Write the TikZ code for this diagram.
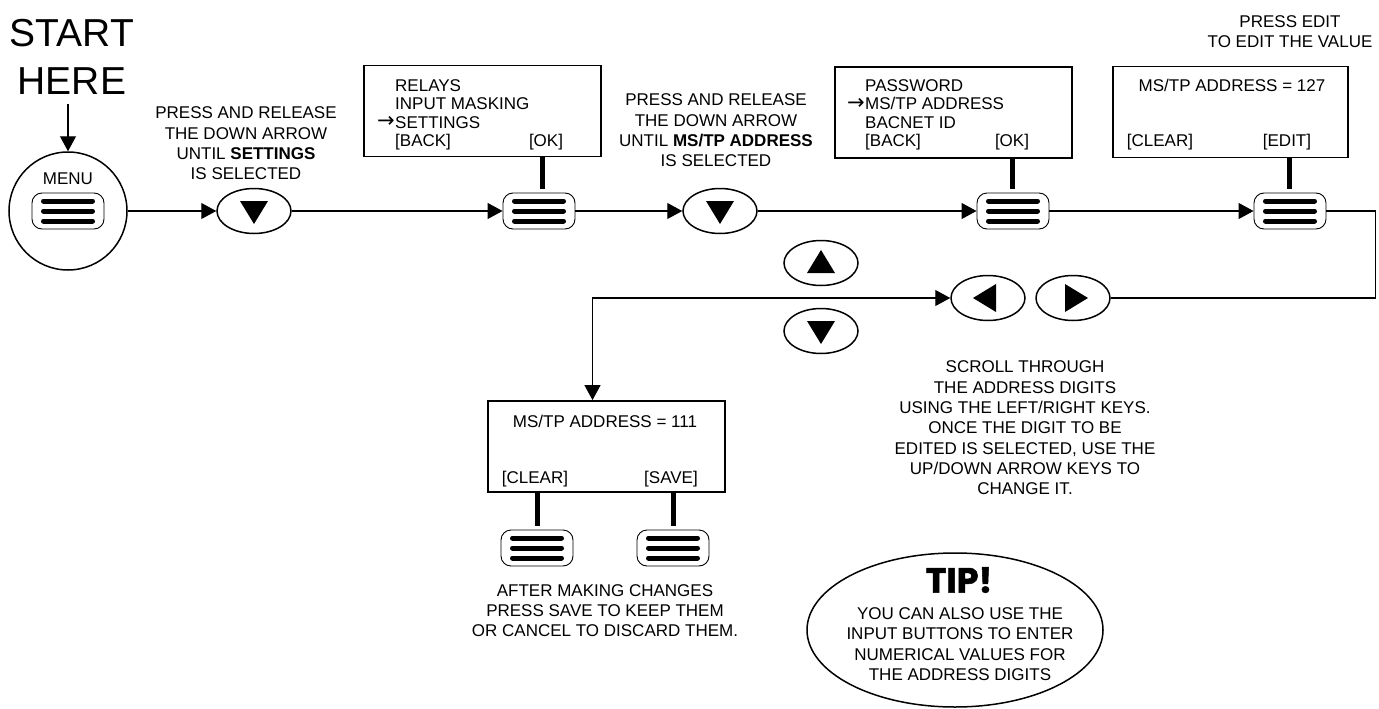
\documentclass[tikz,border=0pt]{standalone}
\usepackage{fontspec}
\setmainfont{Liberation Sans}
\newfontfamily\arrowfont{DejaVu Sans}
\newfontfamily\tipfont{Poppins}[BoldFeatures={FakeBold=1.5}]
\usetikzlibrary{arrows.meta,shapes.geometric,calc}
\newcommand\keybtn[3]{%
  \node[keybox] (#1) at (#2,#3) {};
  \foreach \d in {-10,0,10} \draw[bar] ($(#1.center)+(-24.5,\d)$) -- ($(#1.center)+(24.5,\d)$);
}
\newcommand\downtri[1]{\fill ($(#1.center)+(-14,-10)$) -- ($(#1.center)+(14,-10)$) -- ($(#1.center)+(0,13)$) -- cycle;}
\newcommand\uptri[1]{\fill ($(#1.center)+(-14,10)$) -- ($(#1.center)+(14,10)$) -- ($(#1.center)+(0,-13)$) -- cycle;}
\newcommand\lefttri[1]{\fill ($(#1.center)+(8,-14)$) -- ($(#1.center)+(8,14)$) -- ($(#1.center)+(-15,0)$) -- cycle;}
\newcommand\righttri[1]{\fill ($(#1.center)+(-8,-14)$) -- ($(#1.center)+(-8,14)$) -- ($(#1.center)+(15,0)$) -- cycle;}
\begin{document}
\begin{tikzpicture}[x=1pt,y=-1pt,
  txt/.style={font=\fontsize{17}{20.3}\selectfont, inner sep=0pt, align=center},
  lbl/.style={font=\fontsize{17}{20.3}\selectfont, inner sep=0pt},
  lcd/.style={draw, line width=1.8pt, minimum width=237pt, minimum height=91pt, inner sep=0pt},
  keybox/.style={draw, rounded corners=10pt, minimum width=72pt, minimum height=36pt, line width=0.9pt, inner sep=0pt},
  bar/.style={line width=5pt, line cap=round},
  oval/.style={draw, ellipse, minimum width=74pt, minimum height=45pt, line width=1.5pt, inner sep=0pt},
  tip/.style={-{Triangle[length=15pt,width=16pt]}},
  flow/.style={line width=1.1pt},
  stem/.style={line width=5pt, shorten >=4pt},
  selarr/.style={font=\arrowfont\fontsize{21}{21}\selectfont, inner sep=0pt, anchor=base east}
]
\useasboundingbox (0,0) rectangle (1379,709);

% START HERE + menu
\node[font=\fontsize{39}{48}\selectfont, align=center, inner sep=0pt] (start) at (72,57) {START\\HERE};
\node[draw, circle, minimum size=118pt, line width=1.5pt, inner sep=0pt] (menu) at (68,211) {};
\node[lbl] (menutxt) at (68,179) {MENU};
\keybtn{mbtn}{68}{211}
\draw[flow,tip] ($(start.south -| menu.north)+(0,9)$) -- (menu.north);

% step 1
\node[txt] (t1) at (246,143.5) {PRESS AND RELEASE\\THE DOWN ARROW\\UNTIL \textbf{SETTINGS}\\IS SELECTED};
\node[oval] (d1) at (254,211) {};
\downtri{d1}
\draw[flow,tip] (menu.east) -- (d1.west);

% box 1
\node[lcd] (box1) at (482.5,111) {};
\node[lbl, anchor=base west] (b1a) at (395,92) {RELAYS};
\node[lbl, anchor=base west] (b1b) at (395,110) {INPUT MASKING};
\node[lbl, anchor=base west] (b1c) at (395,128) {SETTINGS};
\node[selarr] (b1arr) at ([yshift=1pt]b1c.base west) {→};
\node[lbl, anchor=base west] (b1d) at (395,146) {[BACK]};
\node[lbl, anchor=base] (b1e) at (546,146) {[OK]};
\keybtn{btn2}{539}{211}
\draw[stem] (box1.south -| 542,0) -- (btn2.north -| 542,0);
\draw[flow,tip] (d1.east) -- (btn2.west);

% step 2
\node[txt] (t2) at (716,130.5) {PRESS AND RELEASE\\THE DOWN ARROW\\UNTIL \textbf{MS/TP ADDRESS}\\IS SELECTED};
\node[oval] (d2) at (720,211) {};
\downtri{d2}
\draw[flow,tip] (btn2.east) -- (d2.west);

% box 2
\node[lcd] (box2) at (953.5,112.5) {};
\node[lbl, anchor=base west] (b2a) at (865,92) {PASSWORD};
\node[lbl, anchor=base west] (b2b) at (865,110) {MS/TP ADDRESS};
\node[selarr] (b2arr) at ([yshift=1pt]b2b.base west) {→};
\node[lbl, anchor=base west] (b2c) at (865,128) {BACNET ID};
\node[lbl, anchor=base west] (b2d) at (865,146) {[BACK]};
\node[lbl, anchor=base] (b2e) at (1012,146) {[OK]};
\keybtn{btn3}{1013}{211}
\draw[stem] (box2.south -| 1012,0) -- (btn3.north -| 1012,0);
\draw[flow,tip] (d2.east) -- (btn3.west);

% box 3
\node[txt] (t3) at (1290,31.5) {PRESS EDIT\\TO EDIT THE VALUE};
\node[lcd, minimum width=235pt] (box3) at (1230.5,112) {};
\node[lbl, anchor=base] (b3a) at (1232,92) {MS/TP ADDRESS = 127};
\node[lbl, anchor=base] (b3b) at (1160,146) {[CLEAR]};
\node[lbl, anchor=base] (b3c) at (1287,146) {[EDIT]};
\keybtn{btn4}{1290}{211}
\draw[stem] (box3.south -| 1289,0) -- (btn4.north -| 1289,0);
\draw[flow,tip] (btn3.east) -- (btn4.west);

% arrow keys
\node[oval] (up) at (821,263) {};
\uptri{up}
\node[oval] (dn) at (821,331) {};
\downtri{dn}
\node[oval] (lb) at (988,298) {};
\lefttri{lb}
\node[oval] (rb) at (1073,298) {};
\righttri{rb}
\draw[flow] (btn4.east) -- ++(49,0) |- (rb.east);

\node[txt] (t4) at (1025,428) {SCROLL THROUGH\\THE ADDRESS DIGITS\\USING THE LEFT/RIGHT KEYS.\\ONCE THE DIGIT TO BE\\EDITED IS SELECTED, USE THE\\UP/DOWN ARROW KEYS TO\\CHANGE IT.};

% box 4
\node[lcd] (box4) at (606.5,446.5) {};
\draw[flow,{Triangle[length=15pt,width=16pt]}-{Triangle[length=15pt,width=16pt]}] (lb.west) -| ([xshift=-14pt]box4.north);
\node[lbl, anchor=base] (b4a) at (605,427) {MS/TP ADDRESS = 111};
\node[lbl, anchor=base] (b4b) at (535,483) {[CLEAR]};
\node[lbl, anchor=base] (b4c) at (671,483) {[SAVE]};
\keybtn{btnc}{537}{548}
\keybtn{btns}{673}{548}
\draw[stem] (box4.south -| 537,0) -- (btnc.north -| 537,0);
\draw[stem] (box4.south -| 673,0) -- (btns.north -| 673,0);
\node[txt] (t5) at (605,610.5) {AFTER MAKING CHANGES\\PRESS SAVE TO KEEP THEM\\OR CANCEL TO DISCARD THEM.};

% tip
\node[draw, ellipse, minimum width=296pt, minimum height=154pt, line width=1.5pt] (tipe) at (955,630) {};
\node[font=\tipfont\bfseries\fontsize{35}{40}\selectfont, inner sep=0pt] (tiphd) at (959,580) {TIP!};
\node[txt] (tiptxt) at (960,644) {YOU CAN ALSO USE THE\\INPUT BUTTONS TO ENTER\\NUMERICAL VALUES FOR\\THE ADDRESS DIGITS};
\end{tikzpicture}
\end{document}
